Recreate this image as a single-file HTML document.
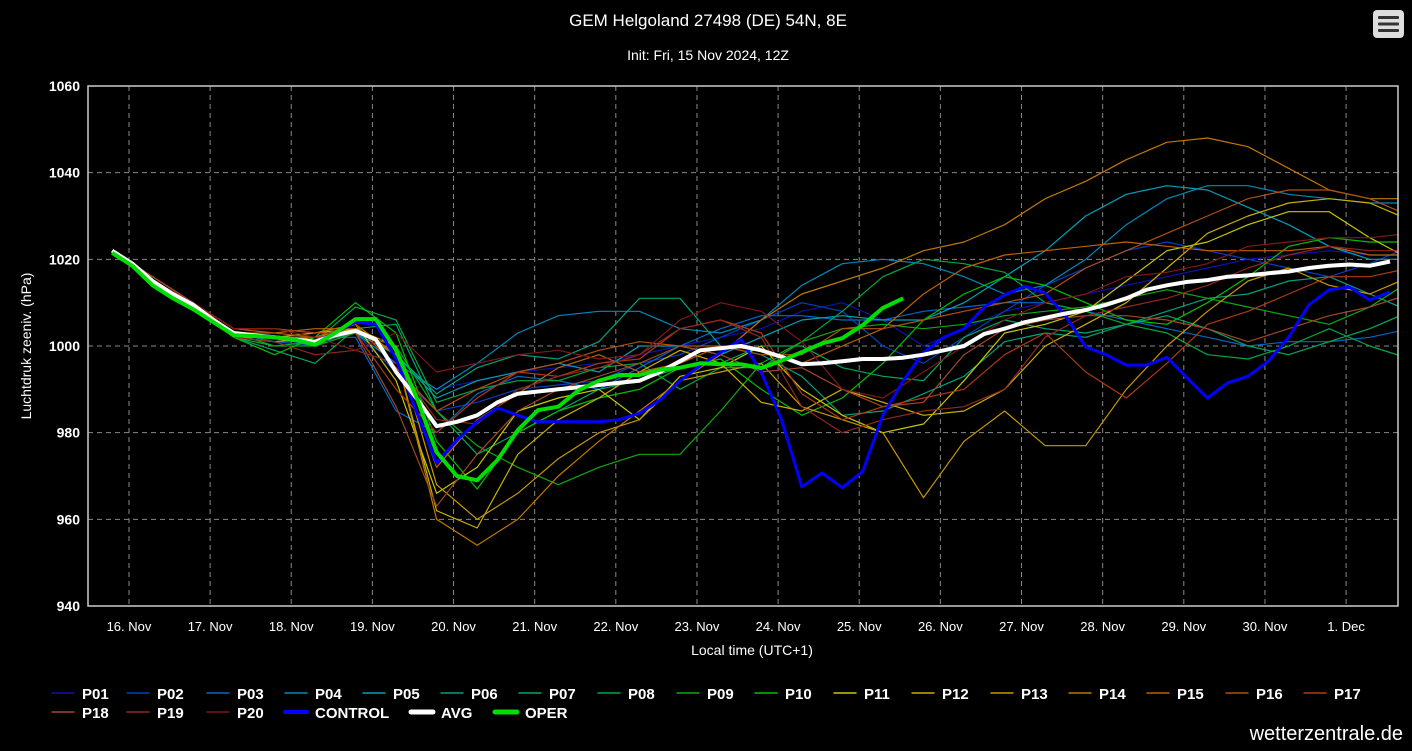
<!DOCTYPE html>
<html><head><meta charset="utf-8">
<style>
html,body{margin:0;padding:0;background:#000;}
body{width:1412px;height:746px;overflow:hidden;font-family:"Liberation Sans Narrow","Liberation Sans",sans-serif;}
svg text{font-family:"Liberation Sans Narrow","Liberation Sans",sans-serif;}
</style></head>
<body>
<svg id="chart" width="1412" height="746" xmlns="http://www.w3.org/2000/svg">
<rect x="0" y="0" width="1412" height="746" fill="#000"/>
<text x="708" y="26" fill="#fff" font-size="17" text-anchor="middle">GEM Helgoland 27498 (DE) 54N, 8E</text>
<text x="708" y="60" fill="#fff" font-size="14" text-anchor="middle">Init: Fri, 15 Nov 2024, 12Z</text>
<g>
<rect x="1373" y="10" width="31" height="28" rx="4" fill="#ddd"/>
<rect x="1378" y="16" width="21" height="3" rx="1" fill="#333"/>
<rect x="1378" y="22.5" width="21" height="3" rx="1" fill="#333"/>
<rect x="1378" y="29" width="21" height="3" rx="1" fill="#333"/>
</g>
<g id="grid"></g>
<g id="axes"></g>
<defs><clipPath id="clip"><rect x="88" y="86" width="1310" height="520"/></clipPath></defs>
<g id="series" clip-path="url(#clip)"></g>
<rect x="88" y="86" width="1310" height="520" fill="none" stroke="#ccc" stroke-width="1.5"/>
<text x="752" y="655" fill="#fff" font-size="14" text-anchor="middle">Local time (UTC+1)</text>
<text transform="translate(31,346) rotate(-90)" fill="#fff" font-size="14" text-anchor="middle">Luchtdruk zeeniv. (hPa)</text>
<g id="legend"></g>
<text x="1403" y="740" fill="#fff" font-size="20" text-anchor="end">wetterzentrale.de</text>
</svg>
<script>
const yTicks=[940,960,980,1000,1020,1040,1060];
const dayLabels=["16. Nov","17. Nov","18. Nov","19. Nov","20. Nov","21. Nov","22. Nov","23. Nov","24. Nov","25. Nov","26. Nov","27. Nov","28. Nov","29. Nov","30. Nov","1. Dec"];
const memberNames=["P01","P02","P03","P04","P05","P06","P07","P08","P09","P10","P11","P12","P13","P14","P15","P16","P17","P18","P19","P20"];
const memberColors=["#1010b0","#0040c0","#0068c8","#0088b8","#00a0b8","#00a080","#00a860","#00a840","#10a810","#00c000","#c8c800","#c8b000","#c89800","#c07800","#c06000","#b05010","#b03a10","#a04828","#902820","#801818"];
const P01=[1022,1015,1009,1003,1002,1001,1004,996,990,992,994,995,996,998,1000,1002,1004,1008,1010,1006,1000,1004,1008,1010,1012,1014,1016,1018,1020,1021,1022,1021,1021];
const P02=[1022,1015,1009,1002,1001,1000,1003,994,985,987,990,991,992,996,998,1002,1006,1010,1008,1000,996,1002,1008,1014,1018,1022,1024,1022,1020,1018,1016,1019,1023];
const P03=[1022,1015,1009,1003,1001,1002,1002,985,980,989,993,992,990,995,1000,1004,1007,1007,1006,1006,1008,1009,1010,1010,1008,1006,1004,1002,1000,1001,1001,1002,1004];
const P04=[1022,1015,1009,1002,1001,1001,1003,996,990,996,1003,1007,1008,1008,1004,1003,1006,1014,1019,1020,1019,1016,1012,1014,1020,1028,1034,1037,1037,1035,1034,1033,1033];
const P05=[1022,1015,1010,1003,1002,1000,1004,998,988,992,994,996,994,1000,1000,998,1002,1006,1007,1006,1006,1010,1016,1022,1030,1035,1037,1036,1032,1028,1023,1020,1020];
const P06=[1022,1015,1010,1003,1002,1001,1003,998,989,995,998,997,1001,1011,1011,1000,998,993,984,985,989,993,1001,1003,1002,1005,1008,1011,1012,1015,1016,1012,1008];
const P07=[1022,1015,1009,1002,999,996,1004,1005,985,975,980,985,990,992,995,996,1000,1000,995,993,992,1002,1006,1004,1003,1005,1007,1004,1000,998,1001,1004,1008];
const P08=[1022,1015,1009,1002,1000,1001,1009,1006,987,990,992,992,995,996,990,995,995,1001,1008,1016,1020,1019,1017,1010,1008,1005,1003,998,997,1000,1004,1000,997];
const P09=[1022,1015,1010,1003,1000,1000,1003,1000,985,977,972,968,972,975,975,985,996,1001,1004,1005,1004,1005,1007,1008,1009,1011,1013,1011,1009,1007,1005,1009,1015];
const P10=[1022,1015,1009,1002,998,1002,1010,1003,978,967,980,985,988,990,995,997,990,984,988,996,1006,1012,1016,1014,1010,1006,1005,1010,1016,1023,1025,1024,1024];
const P11=[1022,1015,1009,1003,1002,1002,1005,992,966,972,985,988,990,983,993,995,1000,990,984,980,982,992,1003,1005,1008,1015,1022,1024,1028,1031,1031,1025,1020];
const P12=[1022,1015,1009,1002,1002,1003,1004,998,962,958,975,983,988,994,999,996,987,985,990,987,984,985,990,1000,1005,1010,1018,1026,1030,1033,1034,1033,1029];
const P13=[1022,1015,1009,1002,1001,1002,1004,1000,968,960,966,974,980,983,992,994,996,986,983,980,965,978,985,977,977,990,1000,1008,1015,1018,1014,1012,1016];
const P14=[1022,1016,1010,1004,1004,1003,1005,998,960,954,960,970,978,985,992,998,1006,1012,1015,1018,1022,1024,1028,1034,1038,1043,1047,1048,1046,1041,1036,1034,1034];
const P15=[1022,1016,1010,1004,1003,1004,1004,998,972,983,989,995,998,994,996,1000,999,996,1000,1004,1012,1018,1021,1022,1023,1024,1023,1022,1022,1022,1023,1021,1021];
const P16=[1022,1016,1010,1003,1003,1002,1005,995,985,990,994,996,999,1001,1000,1000,998,998,1004,1004,1006,1008,1010,1012,1018,1022,1026,1030,1034,1036,1036,1034,1030];
const P17=[1022,1015,1010,1004,1004,1003,1003,990,980,988,994,993,996,997,1004,1006,1003,989,983,986,988,990,998,1003,994,988,996,1005,1008,1012,1016,1016,1018];
const P18=[1022,1016,1010,1003,1002,1002,1003,986,963,975,985,990,993,996,1000,998,994,995,990,986,987,998,1004,1006,1007,1007,1006,1004,1001,1004,1007,1009,1012];
const P19=[1022,1015,1009,1002,1001,998,999,996,983,982,990,993,995,998,1004,1006,1002,986,980,983,985,986,990,1002,1007,1009,1011,1014,1018,1021,1023,1022,1022];
const P20=[1022,1015,1010,1004,1004,1002,999,1003,994,996,998,999,997,998,1006,1010,1008,1001,990,988,994,1000,1006,1010,1012,1016,1017,1019,1023,1024,1025,1025,1026];
const members=[P01,P02,P03,P04,P05,P06,P07,P08,P09,P10,P11,P12,P13,P14,P15,P16,P17,P18,P19,P20];
const controlValues=[1021.5,1019,1014.5,1011.5,1009,1005.5,1003,1002.5,1002,1001.5,1001,1003,1005.5,1005,997,985,973,978.3,982.5,985.7,984,982.5,982.5,982.5,982.5,983,984.5,987.5,992,995.5,998.5,1001.5,994,983,967.5,970.7,967.3,971,984,992,998.5,1002,1004,1009,1011.8,1013.8,1012.2,1007,999.8,998,995.6,995.6,997.4,992.6,988,991.5,993,996.5,1002,1009.5,1013,1013.6,1010.6,1012.5];
const avgValues=[1022,1019,1015,1012,1009.5,1006,1003,1002.5,1002,1001.5,1001,1002.5,1003.5,1001.5,994,988,981.5,982.5,984,987,989,989.5,990,990.5,991,991.5,992,994,996.5,999,999.5,1000,999,997.5,995.8,996,996.5,997,997,997.3,998,999,1000,1002.8,1004,1005.5,1006.5,1007.5,1008.3,1009.5,1011,1013,1014,1014.8,1015.2,1016,1016.3,1016.8,1017.2,1018,1018.5,1018.8,1018.5,1019.5];
const operValues=[1021.5,1018.5,1014,1011,1008.5,1005.5,1002.5,1002.3,1002,1001.5,1000.3,1003,1006.2,1006.2,999,988.3,975.5,970,969,973.7,980.6,985.2,986,989.8,992,993.3,993.3,994.5,995,996,995.8,995.8,994.9,996.6,998.6,1000.6,1001.8,1004.8,1008.8,1011];

const NS="http://www.w3.org/2000/svg";
const X0=88,X1=1398,Y0=86,Y1=606;
const tMin=-0.505,tMax=15.64;
const tStart=-5/24;
function xScale(t){return X0+(t-tMin)/(tMax-tMin)*(X1-X0);}
function yScale(v){return Y1-(v-940)/(1060-940)*(Y1-Y0);}
function mk(tag,attrs,parent){const e=document.createElementNS(NS,tag);for(const k in attrs)e.setAttribute(k,attrs[k]);parent.appendChild(e);return e;}

const grid=document.getElementById('grid'),axes=document.getElementById('axes');
yTicks.forEach(v=>{
  const y=yScale(v);
  if(v>940&&v<1060){const l=mk('line',{x1:X0,x2:X1,y1:y,y2:y,stroke:'#888','stroke-dasharray':'5,4','stroke-width':1},grid);
  
  }
  const t=mk('text',{x:80,y:y+5,fill:'#fff','font-size':14,'font-weight':'bold','text-anchor':'end'},axes);
  
  
  t.textContent=v;
});
dayLabels.forEach((d,i)=>{
  const x=xScale(i);
  const l=mk('line',{x1:x,x2:x,y1:Y0,y2:Y1,stroke:'#888','stroke-dasharray':'5,4','stroke-width':1},grid);
  
  
  const t=mk('text',{x:x,y:631,fill:'#fff','font-size':13,'text-anchor':'middle'},axes);
  
  
  t.textContent=d;
});
const series=document.getElementById('series');
function drawLine(vals,step,color,w,name){
  const pts=vals.map((v,i)=>xScale(tStart+i*step).toFixed(1)+','+yScale(v).toFixed(1)).join(' ');
  const p=mk('polyline',{points:pts,fill:'none',stroke:color,'stroke-width':w,'stroke-linejoin':'round'},series);
  
  
}
members.forEach((m,i)=>drawLine(m,0.5,memberColors[i],1.2,'line-'+memberNames[i].toLowerCase()));
drawLine(controlValues,0.25,'#0000ff',3,'line-control');
drawLine(avgValues,0.25,'#ffffff',4,'line-avg');
drawLine(operValues,0.25,'#00dd00',4,'line-oper');

const legend=document.getElementById('legend');
const legItems=memberNames.map((n,i)=>({n:n,c:memberColors[i],w:1.5}));
legItems.push({n:'CONTROL',c:'#0000ff',w:4},{n:'AVG',c:'#ffffff',w:5},{n:'OPER',c:'#00dd00',w:5});
const row1X=[82,157,237,315,393,471,549,628,707,785,864,942,1021,1099,1177,1256,1334];
const row2X=[82,157,237,315,441,525];
legItems.forEach((it,i)=>{
  let tx,ty;
  if(i<17){tx=row1X[i];ty=699;}else{tx=row2X[i-17];ty=718;}
  const g=mk('g',{},legend);
  
  
  mk('line',{x1:tx-30,x2:tx-8,y1:ty-6,y2:ty-6,stroke:it.c,'stroke-width':it.w,'stroke-linecap':'round'},g);
  const t=mk('text',{x:tx,y:ty,fill:'#fff','font-size':15,'font-weight':'bold'},g);
  t.textContent=it.n;
});
</script>
</body></html>
